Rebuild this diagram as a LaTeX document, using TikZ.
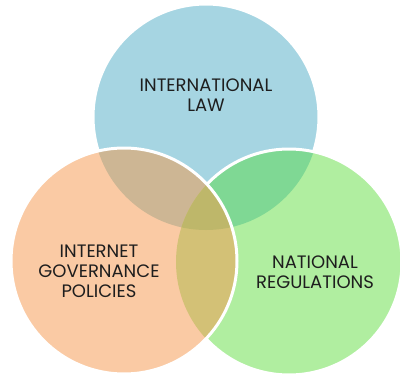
\documentclass[tikz,border=0pt]{standalone}
\usepackage{fontspec}
\setmainfont{Poppins}
\usepackage{tikz}
\usetikzlibrary{positioning}

\definecolor{lawBlue}{RGB}{166,213,226}
\definecolor{regGreen}{RGB}{176,238,160}
\definecolor{polOrange}{RGB}{250,202,164}
\definecolor{lawRegMix}{RGB}{127,216,148}
\definecolor{lawPolMix}{RGB}{205,182,148}
\definecolor{regPolMix}{RGB}{211,193,118}
\definecolor{allMix}{RGB}{190,183,106}
\definecolor{textGray}{RGB}{30,30,30}

\tikzset{
  ring/.style={draw=white, line width=3pt},
  setlabel/.style={align=center, text=textGray, font=\fontsize{18}{20}\selectfont, inner sep=0pt}
}
\newcommand*{\rad}{113}

\begin{document}
\begin{tikzpicture}[x=1pt, y=-1pt]
    \useasboundingbox (0,0) rectangle (400,378);
    \coordinate (law) at (206,117);
    \coordinate (pol) at (124,261);
    \coordinate (reg) at (289,262);

    % international law
    \fill[lawBlue] (law) circle (\rad);
    \draw[ring] (law) circle (\rad);

    % national regulations
    \fill[regGreen] (reg) circle (\rad);
    \begin{scope}
        \clip (law) circle (\rad);
        \fill[lawRegMix] (reg) circle (\rad);
    \end{scope}
    \draw[ring] (reg) circle (\rad);

    % internet governance policies
    \fill[polOrange] (pol) circle (\rad);
    \begin{scope}
        \clip (law) circle (\rad);
        \fill[lawPolMix] (pol) circle (\rad);
    \end{scope}
    \begin{scope}
        \clip (reg) circle (\rad);
        \fill[regPolMix] (pol) circle (\rad);
    \end{scope}
    \begin{scope}
        \clip (law) circle (\rad);
        \clip (reg) circle (\rad);
        \fill[allMix] (pol) circle (\rad);
    \end{scope}
    \draw[ring] (pol) circle (\rad);

    \node[setlabel] (lawText) at (206,95) {INTERNATIONAL\\LAW};
    \node[setlabel] (polText) at (99,271) {INTERNET\\GOVERNANCE\\POLICIES};
    \node[setlabel] (regText) at (315,272) {NATIONAL\\REGULATIONS};
\end{tikzpicture}
\end{document}
